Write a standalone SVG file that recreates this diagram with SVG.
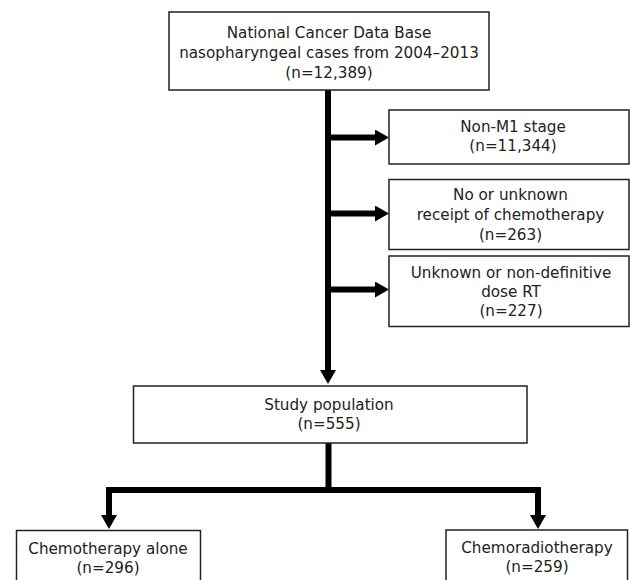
<svg xmlns="http://www.w3.org/2000/svg" width="630" height="580" viewBox="0 0 630 580">
  <style>
    .box { fill: #ffffff; stroke: #222222; stroke-width: 1.5; }
    .t { font-family: "DejaVu Sans", "Open Sans", sans-serif; font-size: 15.2px; fill: #222222; text-anchor: middle; }
    .c { fill: none; stroke: #000000; stroke-width: 6; stroke-linejoin: miter; }
  </style>
  <defs>
    <marker id="ah" viewBox="0 -8 14 16" refX="0" refY="0" markerWidth="14" markerHeight="16" markerUnits="userSpaceOnUse" orient="auto-start-reverse">
      <path d="M0,-8 L14,0 L0,8 z" fill="#000000"/>
    </marker>
  </defs>
  <rect width="630" height="580" fill="#ffffff"/>

  <g id="connectors">
    <path class="c" d="M328,90 V370" marker-end="url(#ah)"/>
    <path class="c" d="M328,137.5 H375" marker-end="url(#ah)"/>
    <path class="c" d="M328,213.5 H375" marker-end="url(#ah)"/>
    <path class="c" d="M328,289.5 H375" marker-end="url(#ah)"/>
    <path class="c" d="M328.5,443 V490"/>
    <path class="c" d="M109,515 V490 H538 V515" marker-start="url(#ah)" marker-end="url(#ah)"/>
  </g>

  <g id="source">
    <rect class="box" x="169" y="12" width="320" height="78"/>
    <text class="t" x="329" y="37.5">National Cancer Data Base</text>
    <text class="t" x="329" y="57.5">nasopharyngeal cases from 2004–2013</text>
    <text class="t" x="329" y="78">(n=12,389)</text>
  </g>

  <g id="exclude-m1">
    <rect class="box" x="389" y="110" width="240" height="54"/>
    <text class="t" x="513" y="132">Non-M1 stage</text>
    <text class="t" x="513" y="151">(n=11,344)</text>
  </g>

  <g id="exclude-chemo">
    <rect class="box" x="389" y="179.5" width="240" height="70"/>
    <text class="t" x="510.5" y="199.5">No or unknown</text>
    <text class="t" x="510.5" y="220">receipt of chemotherapy</text>
    <text class="t" x="510.5" y="240">(n=263)</text>
  </g>

  <g id="exclude-rt">
    <rect class="box" x="389" y="256" width="240" height="70.5"/>
    <text class="t" x="511" y="278">Unknown or non-definitive</text>
    <text class="t" x="511" y="297">dose RT</text>
    <text class="t" x="511" y="316">(n=227)</text>
  </g>

  <g id="study">
    <rect class="box" x="133.5" y="386" width="393.5" height="57"/>
    <text class="t" x="329" y="410">Study population</text>
    <text class="t" x="329" y="429">(n=555)</text>
  </g>

  <g id="chemo-alone">
    <rect class="box" x="16.5" y="530.5" width="184" height="60"/>
    <text class="t" x="108" y="553.5">Chemotherapy alone</text>
    <text class="t" x="108" y="572.5">(n=296)</text>
  </g>

  <g id="chemoradio">
    <rect class="box" x="446" y="530" width="181.5" height="60"/>
    <text class="t" x="537" y="553">Chemoradiotherapy</text>
    <text class="t" x="537" y="572">(n=259)</text>
  </g>
</svg>
